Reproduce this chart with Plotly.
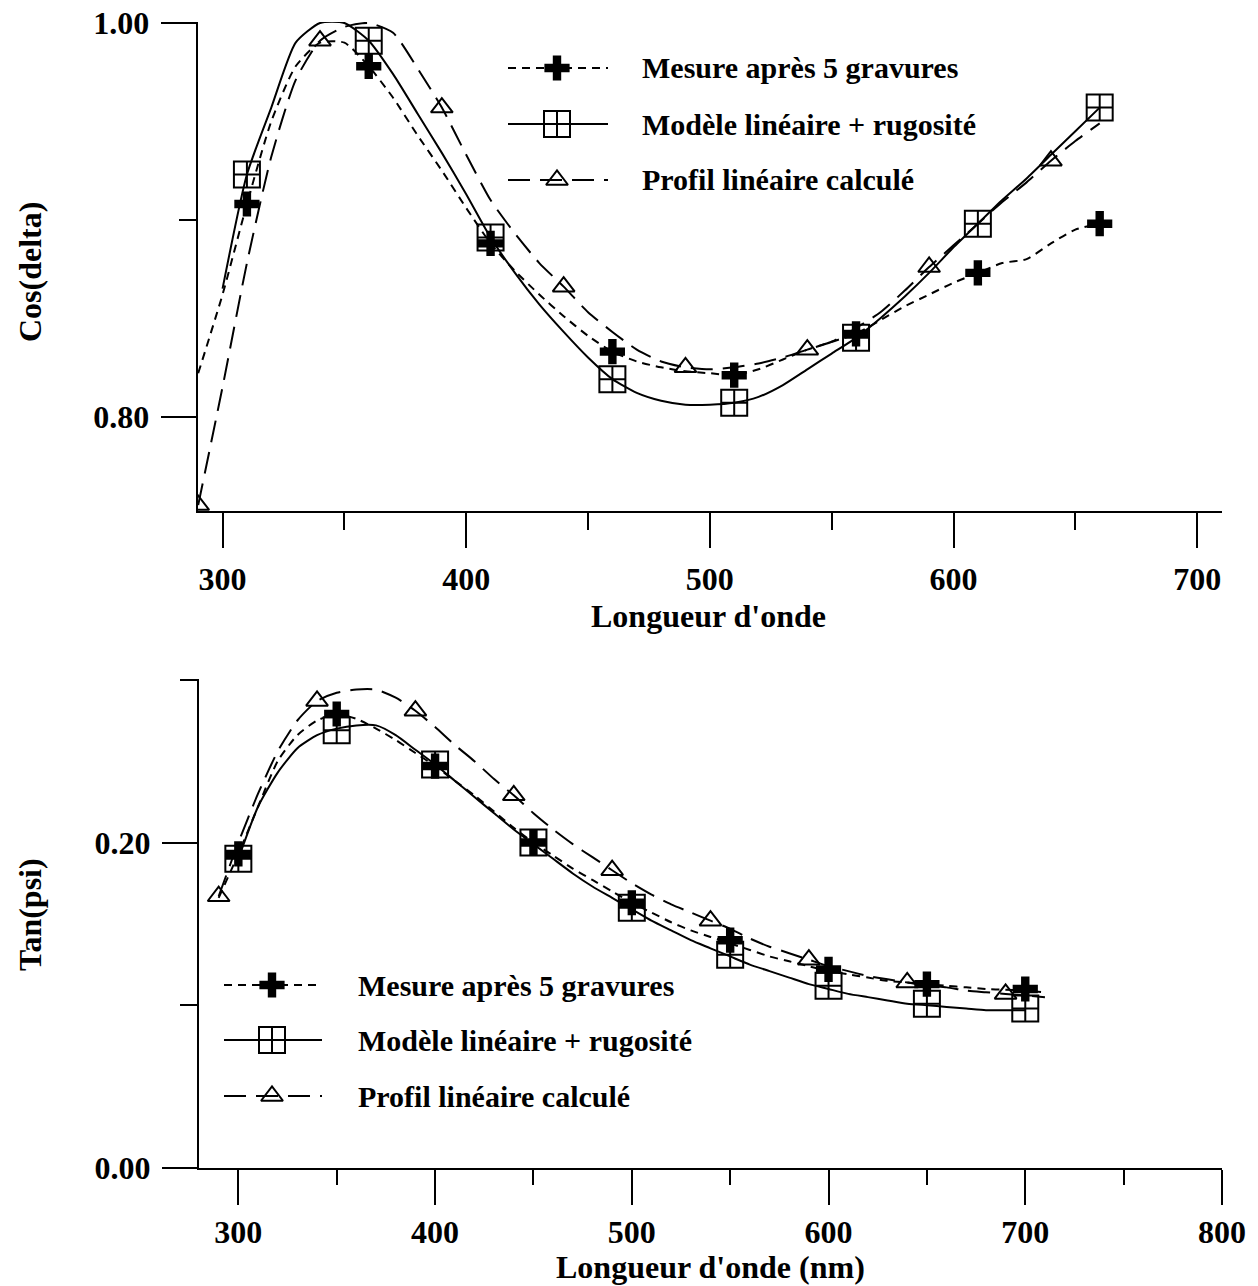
import plotly.graph_objects as go

# ---------------- Cos(delta) panel ----------------
wl_meas_cos = [290, 300, 310, 320, 330, 340, 350, 360, 370, 380, 390, 400, 410, 420, 430,
               440, 450, 460, 470, 480, 490, 500, 510, 520, 530, 540, 550, 560, 570, 580,
               590, 600, 610, 620, 630, 640, 650, 660]
cos_meas = [0.822, 0.862, 0.908, 0.950, 0.978, 0.990, 0.990, 0.978, 0.962, 0.943, 0.925,
            0.906, 0.888, 0.874, 0.862, 0.851, 0.841, 0.833, 0.828, 0.825, 0.823, 0.822,
            0.821, 0.824, 0.829, 0.834, 0.838, 0.842, 0.849, 0.856, 0.862, 0.868, 0.873,
            0.878, 0.880, 0.888, 0.895, 0.898]

wl_model_cos = [300, 310, 320, 330, 340, 350, 360, 370, 380, 390, 400, 410, 420, 430, 440,
                450, 460, 470, 480, 490, 500, 510, 520, 530, 540, 550, 560, 570, 580, 590,
                600, 610, 620, 630, 640, 650, 660]
cos_model = [0.865, 0.923, 0.957, 0.990, 1.000, 1.000, 0.991, 0.974, 0.954, 0.934, 0.913,
             0.891, 0.873, 0.857, 0.843, 0.830, 0.819, 0.812, 0.808, 0.806, 0.806, 0.807,
             0.810, 0.816, 0.824, 0.832, 0.840, 0.850, 0.861, 0.873, 0.886, 0.898, 0.910,
             0.921, 0.933, 0.945, 0.957]

wl_prof_cos = [290, 300, 310, 320, 330, 340, 350, 360, 370, 380, 390, 400, 410, 420, 430,
               440, 450, 460, 470, 480, 490, 500, 510, 520, 530, 540, 550, 560, 570, 580,
               590, 600, 610, 620, 630, 640, 650, 660]
cos_prof = [0.755, 0.815, 0.878, 0.932, 0.971, 0.991, 0.998, 1.000, 0.995, 0.977, 0.957,
            0.933, 0.910, 0.893, 0.878, 0.866, 0.853, 0.843, 0.834, 0.828, 0.825, 0.824,
            0.825, 0.827, 0.830, 0.834, 0.838, 0.845, 0.853, 0.864, 0.876, 0.887, 0.898,
            0.909, 0.919, 0.930, 0.940, 0.949]

# symbols every 50 nm
wl_meas_cos_pts = [310, 360, 410, 460, 510, 560, 610, 660]
cos_meas_pts = [0.908, 0.978, 0.888, 0.833, 0.821, 0.842, 0.873, 0.898]
wl_model_cos_pts = [310, 360, 410, 460, 510, 560, 610, 660]
cos_model_pts = [0.923, 0.991, 0.891, 0.819, 0.807, 0.840, 0.898, 0.957]
wl_prof_cos_pts = [290, 340, 390, 440, 490, 540, 590, 640]
cos_prof_pts = [0.755, 0.991, 0.957, 0.866, 0.825, 0.834, 0.876, 0.930]

# ---------------- Tan(psi) panel ----------------
wl_meas_tan = [290, 300, 310, 320, 330, 340, 350, 360, 370, 380, 390, 400, 410, 420, 430,
               440, 450, 460, 470, 480, 490, 500, 510, 520, 530, 540, 550, 560, 570, 580,
               590, 600, 610, 620, 630, 640, 650, 660, 670, 680, 690, 700, 710]
tan_meas = [0.166, 0.193, 0.222, 0.250, 0.266, 0.275, 0.279, 0.276, 0.270, 0.263, 0.255,
            0.247, 0.238, 0.229, 0.219, 0.209, 0.200, 0.192, 0.184, 0.177, 0.170, 0.163,
            0.157, 0.151, 0.146, 0.142, 0.138, 0.134, 0.130, 0.127, 0.124, 0.121, 0.119,
            0.117, 0.115, 0.114, 0.113, 0.112, 0.111, 0.110, 0.1095, 0.109, 0.108]

wl_model_tan = [300, 310, 320, 330, 340, 350, 360, 370, 380, 390, 400, 410, 420, 430, 440,
                450, 460, 470, 480, 490, 500, 510, 520, 530, 540, 550, 560, 570, 580, 590,
                600, 610, 620, 630, 640, 650, 660, 670, 680, 690, 700]
tan_model = [0.190, 0.222, 0.243, 0.258, 0.266, 0.270, 0.272, 0.272, 0.266, 0.257, 0.248,
             0.238, 0.228, 0.218, 0.208, 0.199, 0.190, 0.181, 0.173, 0.166, 0.159, 0.152,
             0.146, 0.140, 0.135, 0.130, 0.125, 0.121, 0.117, 0.113, 0.110, 0.107, 0.105,
             0.103, 0.101, 0.100, 0.099, 0.098, 0.097, 0.097, 0.097]

wl_prof_tan = [290, 300, 310, 320, 330, 340, 350, 360, 370, 380, 390, 400, 410, 420, 430,
               440, 450, 460, 470, 480, 490, 500, 510, 520, 530, 540, 550, 560, 570, 580,
               590, 600, 610, 620, 630, 640, 650, 660, 670, 680, 690, 700, 710]
tan_prof = [0.167, 0.200, 0.230, 0.256, 0.275, 0.287, 0.292, 0.294, 0.294, 0.289, 0.281,
            0.271, 0.260, 0.250, 0.239, 0.229, 0.218, 0.208, 0.199, 0.191, 0.183, 0.175,
            0.168, 0.162, 0.157, 0.152, 0.147, 0.141, 0.136, 0.132, 0.128, 0.124, 0.121,
            0.118, 0.116, 0.114, 0.112, 0.111, 0.109, 0.108, 0.107, 0.106, 0.105]

wl_meas_tan_pts = [300, 350, 400, 450, 500, 550, 600, 650, 700]
tan_meas_pts = [0.193, 0.279, 0.247, 0.200, 0.163, 0.140, 0.122, 0.113, 0.110]
wl_model_tan_pts = [300, 350, 400, 450, 500, 550, 600, 650, 700]
tan_model_pts = [0.190, 0.269, 0.248, 0.200, 0.160, 0.131, 0.112, 0.101, 0.098]
wl_prof_tan_pts = [290, 340, 390, 440, 490, 540, 590, 640, 690]
tan_prof_pts = [0.167, 0.287, 0.281, 0.229, 0.183, 0.152, 0.128, 0.114, 0.107]

series_names = ["Mesure après 5 gravures", "Modèle linéaire + rugosité", "Profil linéaire calculé"]

# ---------------- styles ----------------
W, H = 1258, 1286
INK = "black"
FONT = "Liberation Serif"
DASH_SHORT = "8px,6px"
DASH_LONG = "22px,10px"
styles = [
    dict(dash=DASH_SHORT, symbol="cross", size=21, mline=0),
    dict(dash="solid", symbol="square-cross-open", size=26, mline=2),
    dict(dash=DASH_LONG, symbol="triangle-up-open", size=19, mline=2),
]


def marker_of(st):
    return dict(symbol=st["symbol"], size=st["size"], color=INK,
                line=dict(color=INK, width=st["mline"]))


fig = go.Figure()

panels = [
    ("x", "y", [(wl_meas_cos, cos_meas, wl_meas_cos_pts, cos_meas_pts),
                (wl_model_cos, cos_model, wl_model_cos_pts, cos_model_pts),
                (wl_prof_cos, cos_prof, wl_prof_cos_pts, cos_prof_pts)]),
    ("x2", "y2", [(wl_meas_tan, tan_meas, wl_meas_tan_pts, tan_meas_pts),
                  (wl_model_tan, tan_model, wl_model_tan_pts, tan_model_pts),
                  (wl_prof_tan, tan_prof, wl_prof_tan_pts, tan_prof_pts)]),
]

for xa, ya, groups in panels:
    for (cx, cy, px, py), st, name in zip(groups, styles, series_names):
        fig.add_trace(go.Scatter(
            x=cx, y=cy, mode="lines", xaxis=xa, yaxis=ya, name=name, showlegend=False,
            line=dict(color=INK, width=2, dash=st["dash"], shape="spline", smoothing=0.6),
            hoverinfo="skip"))
        fig.add_trace(go.Scatter(
            x=px, y=py, mode="markers", xaxis=xa, yaxis=ya, name=name, showlegend=False,
            marker=marker_of(st)))

# ---------------- legend keys drawn on a pixel-scaled overlay axis ----------------
legend_blocks = [
    dict(x0=508, x1=608, xm=557, text_x=640, rows=[68, 124, 180]),
    dict(x0=224, x1=322, xm=272, text_x=356, rows=[985, 1040, 1096]),
]
for blk in legend_blocks:
    for st, name, yrow in zip(styles, series_names, blk["rows"]):
        fig.add_trace(go.Scatter(
            x=[blk["x0"], blk["x1"]], y=[yrow, yrow], mode="lines",
            xaxis="x3", yaxis="y3", showlegend=False, hoverinfo="skip",
            line=dict(color=INK, width=2, dash=st["dash"])))
        fig.add_trace(go.Scatter(
            x=[blk["xm"]], y=[yrow], mode="markers", xaxis="x3", yaxis="y3",
            showlegend=False, hoverinfo="skip", marker=marker_of(st)))
        fig.add_annotation(
            x=blk["text_x"] / W, y=1 - yrow / H, xref="paper", yref="paper",
            text=name, showarrow=False, xanchor="left", yanchor="middle",
            font=dict(family=FONT, size=30, color=INK, weight="bold"))

tick_font = dict(family=FONT, size=32, color=INK, weight="bold")
common = dict(showline=True, linecolor=INK, linewidth=2, ticks="outside", ticklen=35,
              tickwidth=2, tickcolor=INK, showgrid=False, zeroline=False, mirror=False,
              tickfont=tick_font, fixedrange=True, automargin=False)

fig.update_layout(
    width=W, height=H, margin=dict(l=0, r=0, t=0, b=0, pad=0, autoexpand=False),
    paper_bgcolor="white", plot_bgcolor="rgba(0,0,0,0)", showlegend=False,
    xaxis=dict(common, domain=[197.7 / W, 1222 / W], range=[289.8, 710.2], anchor="y",
               dtick=100, tick0=0, ticklabelstandoff=4,
               minor=dict(dtick=50, tick0=0, ticks="outside", ticklen=17, tickwidth=2,
                          tickcolor=INK, showgrid=False)),
    yaxis=dict(common, domain=[1 - 511 / H, 1 - 22 / H], range=[0.752, 1.0005], anchor="x",
               dtick=0.2, tick0=0, tickformat=".2f", ticklabelstandoff=5,
               minor=dict(dtick=0.1, tick0=0, ticks="outside", ticklen=17, tickwidth=2,
                          tickcolor=INK, showgrid=False)),
    xaxis2=dict(common, domain=[199 / W, 1222 / W], range=[280, 800], anchor="y2",
                dtick=100, tick0=0, ticklabelstandoff=0,
                minor=dict(dtick=50, tick0=0, ticks="outside", ticklen=15, tickwidth=2,
                           tickcolor=INK, showgrid=False)),
    yaxis2=dict(common, domain=[1 - 1168 / H, 1 - 679 / H], range=[0, 0.3005], anchor="x2",
                dtick=0.2, tick0=0, tickformat=".2f", ticklabelstandoff=5,
                minor=dict(dtick=0.1, tick0=0, ticks="outside", ticklen=17, tickwidth=2,
                           tickcolor=INK, showgrid=False)),
    xaxis3=dict(domain=[0, 1], range=[0, W], visible=False, fixedrange=True, anchor="y3",
                automargin=False),
    yaxis3=dict(domain=[0, 1], range=[H, 0], visible=False, fixedrange=True, anchor="x3",
                automargin=False),
)

title_font = dict(family=FONT, size=32, color=INK, weight="bold")
axis_titles = [
    ("Longueur d'onde", 708, 616, 0),
    ("Cos(delta)", 30, 272, -90),
    ("Longueur d'onde (nm)", 710, 1267, 0),
    ("Tan(psi)", 30, 915, -90),
]
for txt, px_, py_, ang in axis_titles:
    fig.add_annotation(x=px_ / W, y=1 - py_ / H, xref="paper", yref="paper", text=txt,
                       showarrow=False, xanchor="center", yanchor="middle", textangle=ang,
                       font=title_font)

fig.write_html("out.html")
